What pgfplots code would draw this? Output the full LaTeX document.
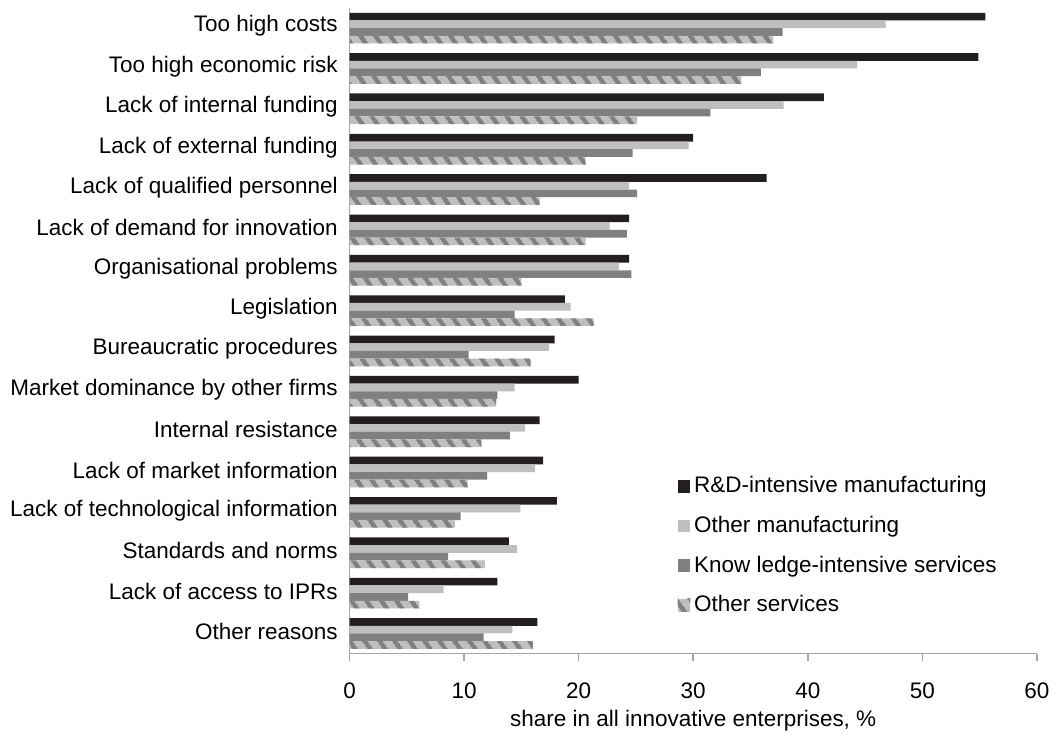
\documentclass[border=0pt]{standalone}
\usepackage{fontspec}
\setmainfont{Liberation Sans}
\usepackage{pgfplots}
\pgfplotsset{compat=1.18}
\usepackage{pgfplotstable}
\usetikzlibrary{patterns.meta}
\definecolor{cblack}{HTML}{231F20}
\definecolor{clight}{HTML}{BFBFBF}
\definecolor{cdark}{HTML}{808080}
\definecolor{caxis}{HTML}{A6A6A6}
\pgfplotstableread{
idx rd om kis os
0 55.5 46.8 37.8 37.0
1 54.9 44.3 35.9 34.2
2 41.4 37.9 31.5 25.1
3 30.0 29.6 24.7 20.6
4 36.4 24.4 25.1 16.6
5 24.4 22.7 24.2 20.6
6 24.4 23.5 24.6 15.0
7 18.8 19.3 14.4 21.3
8 17.9 17.4 10.4 15.8
9 20.0 14.4 12.9 12.8
10 16.6 15.3 14.0 11.5
11 16.9 16.2 12.0 10.3
12 18.1 14.9 9.7 9.2
13 13.9 14.6 8.6 11.8
14 12.9 8.2 5.1 6.1
15 16.4 14.2 11.7 16.0
}\datatable
\begin{document}
\begin{tikzpicture}[font=\fontsize{11.35}{13.6}\selectfont]
\begin{axis}[
  at={(0,0)}, anchor=south west,
  scale only axis,
  width=347pt, height=326pt,
  xbar, bar width=0.19,
  xmin=0, xmax=60,
  ymin=-0.5, ymax=15.5,
  y dir=reverse,
  axis x line*=bottom,
  axis y line*=left,
  axis line style={caxis, line width=0.8pt},
  xtick={0,10,...,60},
  tick align=outside,
  xtick style={caxis, line width=0.8pt},
  major tick length=3.5pt,
  ytick={0,...,15},
  ytick style={draw=none},
  yticklabels={Too high costs,Too high economic risk,Lack of internal funding,Lack of external funding,Lack of qualified personnel,Lack of demand for innovation,Organisational problems,Legislation,Bureaucratic procedures,Market dominance by other firms,Internal resistance,Lack of market information,Lack of technological information,Standards and norms,Lack of access to IPRs,Other reasons},
  y tick label style={xshift=1pt, yshift=1pt, font=\fontsize{11.35}{13.6}\selectfont},
  x tick label style={yshift=-7.5pt, font=\fontsize{11.35}{13.6}\selectfont},
  /pgf/number format/assume math mode=true,
  xlabel={share in all innovative enterprises, \%},
  xlabel style={font=\fontsize{11.35}{13.6}\selectfont, yshift=1pt},
  legend style={draw=none, fill=none, at={(0.468,0.287)}, anchor=north west,
    font=\fontsize{11.35}{13.6}\selectfont, row sep=6.3pt,
    legend cell align=left},
  legend image code/.code={\path[#1] (0pt,-3.2pt) rectangle (6.4pt,3.2pt);},
]
\addplot[fill=cblack, draw=none, bar shift=-0.285] table[x=rd, y=idx] {\datatable};
\addlegendentry{R\&D-intensive manufacturing}
\addplot[fill=clight, draw=none, bar shift=-0.095] table[x=om, y=idx] {\datatable};
\addlegendentry{Other manufacturing}
\addplot[fill=cdark, draw=none, bar shift=0.095] table[x=kis, y=idx] {\datatable};
\addlegendentry{Know ledge-intensive services}
\addplot[fill=clight, draw=none, bar shift=0.285,
  postaction={pattern={Lines[angle=-55,distance=6.4pt,line width=2.5pt]}, pattern color=cdark}] table[x=os, y=idx] {\datatable};
\addlegendentry{Other services}
\end{axis}
\path (-176.5pt,-37pt) rectangle (351.5pt,330pt);
\end{tikzpicture}
\end{document}
